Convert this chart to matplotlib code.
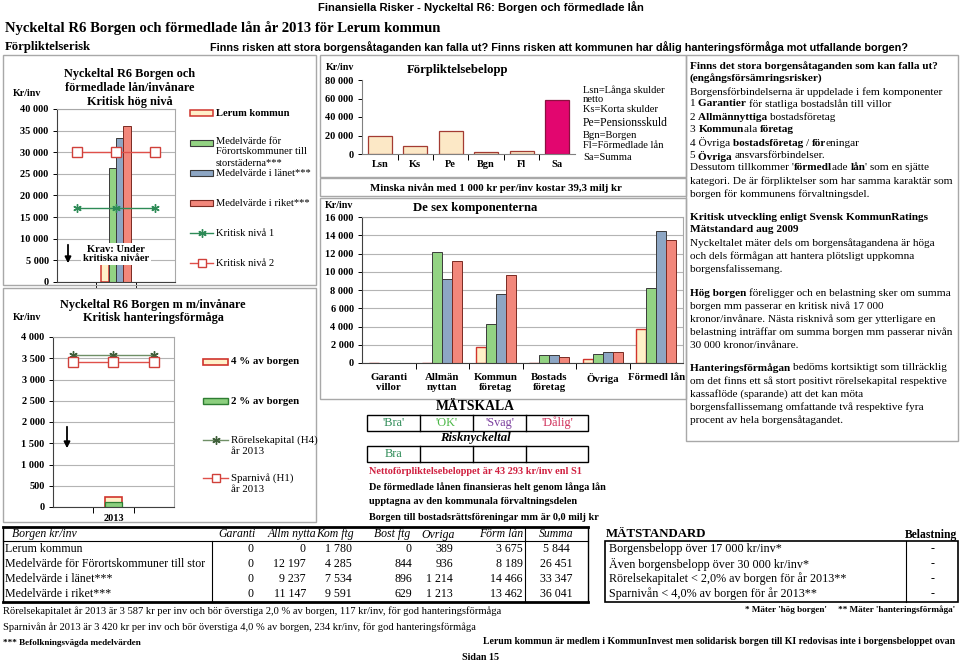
import matplotlib
matplotlib.use('Agg')
import matplotlib.pyplot as plt
from matplotlib.transforms import Affine2D
from matplotlib.patches import Rectangle, FancyArrowPatch
from matplotlib.lines import Line2D
from matplotlib import font_manager as fm

# ---------------- data ----------------
years = ['', '2013', '']
summa = [5844, 26451, 33347, 36041]
kritisk1 = [17000, 17000, 17000]
kritisk2 = [30000, 30000, 30000]

borgen4 = [234]          # 4 % av borgen
borgen2 = [117]          # 2 % av borgen
rorelsekapital = [3587, 3587, 3587]
sparniva = [3420, 3420, 3420]

forpl_cats = ['Lsn', 'Ks', 'Pe', 'Bgn', 'Fl', 'Sa']
forpl_vals = [19500, 9000, 24500, 2169, 3675, 58800]

comp_cats = ['Garanti\nvillor', 'Allmän\nnyttan', 'Kommun\nföretag', 'Bostads\nföretag', 'Övriga', 'Förmedl lån']
table_cols = ['Garanti', 'Allm nytta', 'Kom ftg', 'Bost ftg', 'Övriga', 'Förm lån', 'Summa']
table_rows = ['Lerum kommun', 'Medelvärde för Förortskommuner till storstäderna***',
              'Medelvärde i länet***', 'Medelvärde i riket***']
lerum = [0, 0, 1780, 0, 389, 3675]
forort = [0, 12197, 4285, 844, 936, 8189]
lanet = [0, 9237, 7534, 896, 1214, 14466]
riket = [0, 11147, 9591, 629, 1213, 13462]

matstandard = ['Borgensbelopp över 17 000 kr/inv*', 'Även borgensbelopp över 30 000 kr/inv*',
               'Rörelsekapitalet < 2,0% av borgen för år 2013**', 'Sparnivån < 4,0% av borgen för år 2013**']
belastning = ['-', '-', '-', '-']
matskala = ["'Bra'", "'OK'", "'Svag'", "'Dålig'"]
risk_row = ['Bra', '', '', '']

# ---------------- setup ----------------
W, H = 960, 664
fig = plt.figure(figsize=(W / 100, H / 100), dpi=100)
fig.patch.set_facecolor('white')
pix = Affine2D().scale(1 / W, -1 / H).translate(0, 1) + fig.transFigure
renderer = fig.canvas.get_renderer()

SERIF = ['Liberation Serif', 'DejaVu Serif']
names = {f.name for f in fm.fontManager.ttflist}
if 'Liberation Sans Narrow' in names:
    NARROW, NSCALE = ['Liberation Sans Narrow', 'DejaVu Sans'], 1.0
else:
    NARROW, NSCALE = ['Liberation Sans', 'DejaVu Sans'], 0.83

C_LER_FILL, C_LER_EDGE = '#FFF0C9', '#D0342C'
C_GREEN, C_BLUE, C_SALMON = '#93D383', '#8DA6C4', '#F2877B'
C_EDGE = '#3A3A3A'
GRAY = '#A8A8A8'
fills = [C_LER_FILL, C_GREEN, C_BLUE, C_SALMON]
edges = [C_LER_EDGE, C_EDGE, C_EDGE, '#7A2A22']


def fmt(v):
    return f"{v:,}".replace(',', ' ')


def T(x, y, s, size=8, weight='normal', style='normal', ha='left', va='center',
      color='black', family=None, **kw):
    return fig.text(x, y, s, transform=pix, fontsize=size, fontweight=weight,
                    fontstyle=style, ha=ha, va=va, color=color,
                    family=family if family is not None else SERIF, **kw)


def seg_width(s, **kw):
    t1 = T(0, 0, s + '.', **kw)
    w1 = t1.get_window_extent(renderer).width
    t1.remove()
    t2 = T(0, 0, '.', **kw)
    w2 = t2.get_window_extent(renderer).width
    t2.remove()
    return w1 - w2


def rich(x, y, segs, size=8.2):
    cx = x
    for s, b in segs:
        kw = dict(size=size, weight='bold' if b else 'normal')
        T(cx, y, s, **kw)
        cx += seg_width(s, **kw)


def L(x0, y0, x1, y1, color='black', lw=1.0, **kw):
    fig.add_artist(Line2D([x0, x1], [y0, y1], transform=pix, color=color, lw=lw, **kw))


def R(x, y, w, h, fc='none', ec='black', lw=1.0, **kw):
    fig.add_artist(Rectangle((x, y), w, h, transform=pix, facecolor=fc, edgecolor=ec, lw=lw, **kw))


def axpx(x0, y0, x1, y1):
    return fig.add_axes([x0 / W, 1 - y1 / H, (x1 - x0) / W, (y1 - y0) / H])


def style_ax(ax, grid=True, box=True, size=7.5, xpad=3):
    for sp in ['top', 'right']:
        ax.spines[sp].set_color(GRAY if box else 'none')
        ax.spines[sp].set_linewidth(0.8)
    for sp in ['left', 'bottom']:
        ax.spines[sp].set_color('#404040')
        ax.spines[sp].set_linewidth(0.8)
    if grid:
        ax.yaxis.grid(True, color='#B4B4B4', lw=0.8)
        ax.set_axisbelow(True)
    ax.tick_params(axis='y', length=3, width=0.7, pad=3, labelsize=size)
    ax.tick_params(axis='x', which='major', length=4, width=0.7, labelbottom=False)
    ax.tick_params(axis='x', which='minor', length=0, pad=xpad, labelsize=size)
    for lab in ax.get_yticklabels() + ax.get_xticklabels(minor=True):
        lab.set_fontweight('bold')
        lab.set_family(SERIF)


def set_ylab(ax, ticks):
    ax.set_yticks(ticks)
    ax.set_yticklabels([fmt(t) for t in ticks])


def set_cats(ax, cats):
    n = len(cats)
    ax.set_xlim(-0.5, n - 0.5)
    ax.set_xticks([i + 0.5 for i in range(n - 1)])
    ax.set_xticks(range(n), minor=True)
    ax.set_xticklabels(cats, minor=True)


# ---------------- header ----------------
T(481, 7, 'Finansiella Risker - Nyckeltal R6: Borgen och förmedlade lån', size=9.8 * NSCALE,
  weight='bold', ha='center', family=NARROW)
T(5, 28, 'Nyckeltal R6 Borgen och förmedlade lån år 2013 för Lerum kommun', size=10.6, weight='bold')
T(5, 47, 'Förpliktelserisk', size=9.2, weight='bold')
T(210, 47, 'Finns risken att stora borgensåtaganden kan falla ut? Finns risken att kommunen har dålig '
           'hanteringsförmåga mot utfallande borgen?', size=9.4 * NSCALE, weight='bold', family=NARROW)

# panel borders
R(3, 55, 313, 230, ec=GRAY, lw=1)
R(3, 288, 313, 234, ec=GRAY, lw=1)
R(320, 55, 366, 122, ec=GRAY, lw=1)
R(320, 178, 366, 18, ec=GRAY, lw=1)
R(320, 198, 366, 201, ec=GRAY, lw=1)
R(686, 55, 272, 386, ec=GRAY, lw=1)

# ---------------- top-left chart ----------------
ax1 = axpx(57, 109, 175, 282)
ax1.set_ylim(0, 40000)
set_ylab(ax1, range(0, 40001, 5000))
set_cats(ax1, years)
bw = 0.19
offs = [-1.5 * bw, -0.5 * bw, 0.5 * bw, 1.5 * bw]
for i in range(4):
    ax1.bar(1 + offs[i], summa[i], width=bw, color=fills[i], edgecolor=edges[i],
            lw=1.1 if i == 0 else 0.7, zorder=2)
ax1.plot(range(3), kritisk1, color='#2E8B57', lw=1.0, marker=(6, 2, 0), ms=6, mew=1.0, zorder=4, clip_on=False)
ax1.plot(range(3), kritisk2, color='#E0504A', lw=1.0, marker='s', ms=6.5, mfc='white',
         mec='#D0403A', mew=1.0, zorder=4, clip_on=False)
style_ax(ax1)
ax1.set_xticklabels(['', '', ''], minor=True)

T(130, 74, 'Nyckeltal R6 Borgen och', size=8.8, weight='bold', ha='center')
T(130, 88, 'förmedlade lån/invånare', size=8.8, weight='bold', ha='center')
T(130, 102, 'Kritisk hög nivå', size=8.8, weight='bold', ha='center')
T(13, 93, 'Kr/inv', size=7.2, weight='bold')
T(116, 254, 'Krav: Under\nkritiska nivåer', size=7.6, weight='bold', ha='center', linespacing=1.1,
  bbox=dict(fc='white', ec='none', pad=1.5))
fig.add_artist(FancyArrowPatch((68, 242), (68, 266), transform=pix,
               arrowstyle='-|>', mutation_scale=9, color='black', lw=1.3))

# legend top-left
leg_y = [113, 143, 173, 203]
for i in range(4):
    R(190, leg_y[i] - 3, 23, 6, fc=fills[i], ec=edges[i], lw=1.1 if i == 0 else 0.8)
T(216, 113, 'Lerum kommun', size=7.6, weight='bold')
T(216, 141, 'Medelvärde för', size=7.6)
T(216, 152, 'Förortskommuner till', size=7.6)
T(216, 163, 'storstäderna***', size=7.6)
T(216, 174, 'Medelvärde i länet***', size=7.6)
T(216, 203, 'Medelvärde i riket***', size=7.6)
L(190, 233, 213, 233, color='#2E8B57', lw=1.0)
fig.add_artist(Line2D([201.5], [233], transform=pix, marker=(6, 2, 0), ms=6, color='#2E8B57', mew=1.0))
T(216, 233, 'Kritisk nivå 1', size=7.6)
L(190, 263, 213, 263, color='#E0504A', lw=1.0)
fig.add_artist(Line2D([201.5], [263], transform=pix, marker='s', ms=6, mfc='white', mec='#D0403A', mew=1.0))
T(216, 263, 'Kritisk nivå 2', size=7.6)

# ---------------- bottom-left chart ----------------
ax2 = axpx(53, 337, 174, 507)
ax2.set_ylim(0, 4000)
set_ylab(ax2, range(0, 4001, 500))
set_cats(ax2, years)
ax2.bar(1, borgen4[0], width=0.42, color=C_LER_FILL, edgecolor=C_LER_EDGE, lw=1.2, zorder=2)
ax2.bar(1, borgen2[0], width=0.42, color='#8CCF7E', edgecolor='#2E7D32', lw=0.9, zorder=3)
ax2.plot(range(3), rorelsekapital, color='#6F8F66', lw=1.0, marker=(6, 2, 0), ms=6, mew=1.0,
         mec='#3F5F3A', zorder=4, clip_on=False)
ax2.plot(range(3), sparniva, color='#E0504A', lw=1.0, marker='s', ms=6.5, mfc='white',
         mec='#D0403A', mew=1.0, zorder=4, clip_on=False)
style_ax(ax2, xpad=5)

T(153, 305, 'Nyckeltal R6 Borgen m m/invånare', size=8.8, weight='bold', ha='center')
T(153, 318, 'Kritisk hanteringsförmåga', size=8.8, weight='bold', ha='center')
T(13, 318, 'Kr/inv', size=7.2, weight='bold')
fig.add_artist(FancyArrowPatch((67, 424), (67, 451), transform=pix,
               arrowstyle='-|>', mutation_scale=9, color='black', lw=1.3))

R(203, 359, 25, 6, fc=C_LER_FILL, ec=C_LER_EDGE, lw=1.2)
T(231, 362, '4 % av borgen', size=7.8, weight='bold')
R(203, 398, 25, 6, fc='#8CCF7E', ec='#2E7D32', lw=1.0)
T(231, 401, '2 % av borgen', size=7.8, weight='bold')
L(203, 440, 228, 440, color='#6F8F66', lw=1.0)
fig.add_artist(Line2D([215.5], [440], transform=pix, marker=(6, 2, 0), ms=6, color='#3F5F3A', mew=1.0))
T(231, 440, 'Rörelsekapital (H4)', size=7.8)
T(231, 452, 'år 2013', size=7.8)
L(203, 478, 228, 478, color='#E0504A', lw=1.0)
fig.add_artist(Line2D([215.5], [478], transform=pix, marker='s', ms=6, mfc='white', mec='#D0403A', mew=1.0))
T(231, 478, 'Sparnivå (H1)', size=7.8)
T(231, 490, 'år 2013', size=7.8)

# ---------------- top-middle chart ----------------
ax3 = axpx(362, 80, 575, 154)
ax3.set_ylim(0, 80000)
set_ylab(ax3, range(0, 80001, 20000))
set_cats(ax3, forpl_cats)
bar_fc = ['#FCE8C6'] * 5 + ['#E2066F']
bar_ec = ['#A33B32'] * 5 + ['#8B1040']
ax3.bar(range(6), forpl_vals, width=0.68, color=bar_fc, edgecolor=bar_ec, lw=0.9)
style_ax(ax3, grid=False, box=False, xpad=4)
ax3.spines['left'].set_color('#808080')
ax3.spines['bottom'].set_color('#808080')
T(326, 67, 'Kr/inv', size=7.2, weight='bold')
T(458, 70, 'Förpliktelsebelopp', size=9.2, weight='bold', ha='center')
for txt, yy, sz in [('Lsn=Långa skulder', 90, 7.6), ('netto', 100, 7.6), ('Ks=Korta skulder', 110, 7.6),
                    ('Pe=Pensionsskuld', 123, 8.4), ('Bgn=Borgen', 135, 7.6),
                    ('Fl=Förmedlade lån', 146, 7.6), ('Sa=Summa', 157, 7.6)]:
    T(583, yy, txt, size=sz)
T(370, 188, 'Minska nivån med 1 000 kr per/inv kostar 39,3 milj kr', size=7.8, weight='bold')

# ---------------- middle chart ----------------
ax4 = axpx(362, 217, 683, 363)
ax4.set_ylim(0, 16000)
set_ylab(ax4, range(0, 16001, 2000))
set_cats(ax4, comp_cats)
bw4 = 0.187
offs4 = [-1.5 * bw4, -0.5 * bw4, 0.5 * bw4, 1.5 * bw4]
for i, vals in enumerate([lerum, forort, lanet, riket]):
    ax4.bar([c + offs4[i] for c in range(6)], vals, width=bw4, color=fills[i], edgecolor=edges[i],
            lw=1.0 if i == 0 else 0.7, zorder=2)
style_ax(ax4, size=7.5, xpad=7)
for lab in ax4.get_xticklabels(minor=True):
    lab.set_fontsize(7.8)
    lab.set_linespacing(1.2)
T(325, 205, 'Kr/inv', size=7.2, weight='bold')
T(475, 208, 'De sex komponenterna', size=9.2, weight='bold', ha='center')

# ---------------- MÄTSKALA ----------------
T(475, 407, 'MÄTSKALA', size=9.8, weight='bold', ha='center')
cell_x = [367, 420, 473, 526, 588]
ms_colors = ['#2E8B57', '#4DB848', '#7B3F9E', '#D0305A']
for row_y0, row_y1, texts in [(415, 431, matskala), (446, 462, risk_row)]:
    R(cell_x[0], row_y0, cell_x[-1] - cell_x[0], row_y1 - row_y0, ec='black', lw=1.0)
    for k in range(1, 4):
        L(cell_x[k], row_y0, cell_x[k], row_y1, lw=1.0)
    for k in range(4):
        if texts[k]:
            T((cell_x[k] + cell_x[k + 1]) / 2, (row_y0 + row_y1) / 2, texts[k], size=8.8,
              ha='center', color=ms_colors[k])
T(475, 438, 'Risknyckeltal', size=9.2, weight='bold', style='italic', ha='center')
T(369, 472, 'Nettoförpliktelsebeloppet är 43 293 kr/inv enl S1', size=7.4, weight='bold', color='#D02040')
T(369, 487, 'De förmedlade lånen finansieras helt genom långa lån', size=7.4, weight='bold')
T(369, 501, 'upptagna av den kommunala förvaltningsdelen', size=7.4, weight='bold')
T(369, 518, 'Borgen till bostadsrättsföreningar mm är 0,0 milj kr', size=7.4, weight='bold')

# ---------------- right panel text ----------------
RX = 690
right_lines = [
    (66, [('Finns det stora borgensåtaganden som kan falla ut?', 1)]),
    (79, [('(engångsförsämringsrisker)', 1)]),
    (92, [('Borgensförbindelserna är uppdelade i fem komponenter', 0)]),
    (104, [('1 ', 0), ('Garantier ', 1), ('för statliga bostadslån till villor', 0)]),
    (117, [('2 ', 0), ('Allmännyttiga ', 1), ('bostadsföretag', 0)]),
    (130, [('3 ', 0), ('Kommun', 1), ('ala ', 0), ('företag', 1)]),
    (143, [('4 Övriga ', 0), ('bostadsföretag ', 1), ('/ ', 0), ('för', 1), ('eningar', 0)]),
    (156, [('5 ', 0), ('Övriga ', 1), ('ansvarsförbindelser.', 0)]),
    (168, [("Dessutom tillkommer '", 0), ('förmedl', 1), ('ade ', 0), ('lån', 1), ("' som en sjätte", 0)]),
    (181, [('kategori. De är förpliktelser som har samma karaktär som', 0)]),
    (194, [('borgen för kommunens förvaltningsdel.', 0)]),
    (217, [('Kritisk utveckling enligt Svensk KommunRatings', 1)]),
    (230, [('Mätstandard aug 2009', 1)]),
    (243, [('Nyckeltalet mäter dels om borgensåtagandena är höga', 0)]),
    (256, [('och dels förmågan att hantera plötsligt uppkomna', 0)]),
    (269, [('borgensfalissemang.', 0)]),
    (293, [('Hög borgen ', 1), ('föreligger och en belastning sker om summa', 0)]),
    (306, [('borgen mm passerar en kritisk nivå 17 000', 0)]),
    (319, [('kronor/invånare. Nästa risknivå som ger ytterligare en', 0)]),
    (332, [('belastning inträffar om summa borgen mm passerar nivån', 0)]),
    (345, [('30 000 kronor/invånare.', 0)]),
    (368, [('Hanteringsförmågan ', 1), ('bedöms kortsiktigt som tillräcklig', 0)]),
    (381, [('om det finns ett så stort positivt rörelsekapital respektive', 0)]),
    (394, [('kassaflöde (sparande) att det kan möta', 0)]),
    (407, [('borgensfallissemang omfattande två respektive fyra', 0)]),
    (420, [('procent av hela borgensåtagandet.', 0)]),
]
for yy, segs in right_lines:
    rich(RX, yy, segs, size=8.1)

# ---------------- bottom table ----------------
TX0, TX1, TY0, TY1 = 3, 588, 527, 602
L(TX0, TY0, TX1, TY0, lw=2.0)
L(TX0, TY1, TX1, TY1, lw=2.0)
L(TX0, TY0, TX0, TY1, lw=1.0)
L(TX1, TY0, TX1, TY1, lw=1.0)
L(TX0, 541, TX1, 541, lw=0.8)
L(212, 541, 212, TY1, lw=0.8)
L(525, 527, 525, TY1, lw=0.8)
T(12, 534, 'Borgen kr/inv', size=8.5, style='italic')
hdr_right = [256, 316, 354, 410, 455, 523]
val_right = [253, 306, 352, 412, 453, 523]
for k in range(6):
    T(hdr_right[k], 534, table_cols[k], size=8.5, style='italic', ha='right')
T(556, 534, table_cols[6], size=8.5, style='italic', ha='center')
row_y = [549, 564, 579, 594]
for r, vals in enumerate([lerum, forort, lanet, riket]):
    T(5, row_y[r], table_rows[r][:40], size=8.6)
    for k in range(6):
        T(val_right[k], row_y[r], fmt(vals[k]), size=8.6, ha='right')
    T(556, row_y[r], fmt(summa[r]), size=8.6, ha='center')

# MÄTSTANDARD
T(606, 534, 'MÄTSTANDARD', size=9.3, weight='bold')
T(957, 535, 'Belastning', size=8.4, weight='bold', ha='right')
R(605, 541, 353, 61, ec='black', lw=1.2)
L(906, 541, 906, 602, lw=0.8)
for r in range(4):
    T(609, row_y[r], matstandard[r], size=8.7)
    T(933, row_y[r], belastning[r], size=8.6, ha='center')
T(955, 610, "* Mäter 'hög borgen'     ** Mäter 'hanteringsförmåga'", size=6.6, weight='bold', ha='right')

T(3, 611, 'Rörelsekapitalet år 2013 är 3 587 kr per inv och bör överstiga 2,0 % av borgen, 117 kr/inv, '
          'för god hanteringsförmåga', size=7.6)
T(3, 627, 'Sparnivån år 2013 är 3 420 kr per inv och bör överstiga 4,0 % av borgen, 234 kr/inv, '
          'för god hanteringsförmåga', size=7.6)
T(3, 643, '*** Befolkningsvägda medelvärden', size=6.6, weight='bold')
T(955, 642, 'Lerum kommun är medlem i KommunInvest men solidarisk borgen till KI redovisas inte i '
            'borgensbeloppet ovan', size=7.0, weight='bold', ha='right')
T(480, 658, 'Sidan 15', size=7.2, weight='bold', ha='center')

fig.savefig('out.png', dpi=100, facecolor='white')
